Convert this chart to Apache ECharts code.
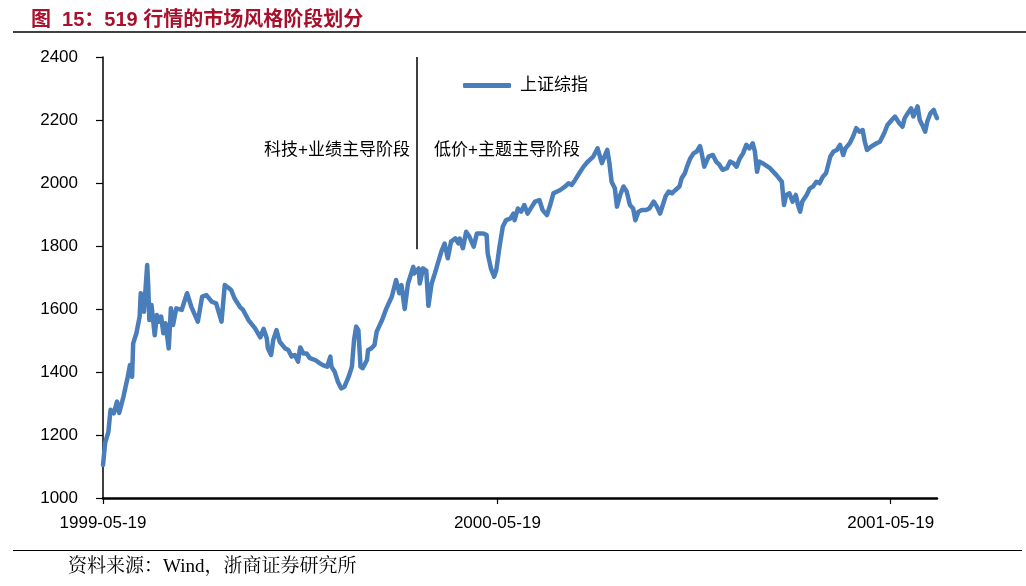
<!DOCTYPE html>
<html>
<head>
<meta charset="utf-8">
<script src="https://cdn.jsdelivr.net/npm/echarts@6/dist/echarts.min.js"></script>
<style>html,body{margin:0;padding:0;background:#fff;}#c{width:1026px;height:586px;}</style>
</head>
<body>
<div id="c"></div>
<script>
const titleText = '图  15：519 行情的市场风格阶段划分';
const sourceText = '资料来源：Wind，浙商证券研究所';
const seriesName = '上证综指';
const phaseLeft = '科技+业绩主导阶段';
const phaseRight = '低价+主题主导阶段';
const phaseSplitDate = '2000-03-05';
const phaseLineFrom = 1790;
const xTickDates = ['1999-05-19', '2000-05-19', '2001-05-19'];
const xMin = '1999-05-19';
const xMax = '2001-07-01';
const yTicks = [1000, 1200, 1400, 1600, 1800, 2000, 2200, 2400];

const dates = [
'1999-05-19','1999-05-21','1999-05-24','1999-05-26','1999-05-29','1999-06-01','1999-06-03','1999-06-07','1999-06-11','1999-06-13',
'1999-06-15','1999-06-16','1999-06-19','1999-06-22','1999-06-23','1999-06-25','1999-06-26','1999-06-29','1999-06-30','1999-07-01',
'1999-07-03','1999-07-06','1999-07-08','1999-07-10','1999-07-12','1999-07-14','1999-07-16','1999-07-19','1999-07-21','1999-07-23',
'1999-07-26','1999-07-31','1999-08-05','1999-08-09','1999-08-15','1999-08-19','1999-08-23','1999-08-28','1999-09-01','1999-09-06',
'1999-09-09','1999-09-13','1999-09-15','1999-09-18','1999-09-23','1999-09-26','1999-10-01','1999-10-07','1999-10-12','1999-10-15',
'1999-10-18','1999-10-19','1999-10-22','1999-10-24','1999-10-27','1999-10-30','1999-11-04','1999-11-07','1999-11-10','1999-11-13',
'1999-11-16','1999-11-18','1999-11-21','1999-11-24','1999-11-27','1999-12-02','1999-12-06','1999-12-09','1999-12-13','1999-12-16',
'1999-12-17','1999-12-20','1999-12-23','1999-12-26','1999-12-29','2000-01-02','2000-01-05','2000-01-07','2000-01-09','2000-01-11',
'2000-01-13','2000-01-15','2000-01-19','2000-01-20','2000-01-23','2000-01-26','2000-01-28','2000-02-02','2000-02-06','2000-02-11',
'2000-02-15','2000-02-18','2000-02-20','2000-02-23','2000-02-26','2000-03-02','2000-03-03','2000-03-07','2000-03-08','2000-03-11',
'2000-03-14','2000-03-16','2000-03-19','2000-03-22','2000-03-25','2000-03-28','2000-03-31','2000-04-03','2000-04-06','2000-04-10',
'2000-04-13','2000-04-14','2000-04-17','2000-04-20','2000-04-23','2000-04-27','2000-04-30','2000-05-06','2000-05-09','2000-05-10',
'2000-05-13','2000-05-16','2000-05-18','2000-05-21','2000-05-24','2000-05-27','2000-05-31','2000-06-03','2000-06-04','2000-06-07',
'2000-06-10','2000-06-13','2000-06-16','2000-06-20','2000-06-23','2000-06-27','2000-06-30','2000-07-04','2000-07-07','2000-07-10',
'2000-07-13','2000-07-16','2000-07-21','2000-07-24','2000-07-27','2000-07-30','2000-08-03','2000-08-07','2000-08-11','2000-08-16',
'2000-08-20','2000-08-24','2000-08-27','2000-08-29','2000-08-31','2000-09-02','2000-09-03','2000-09-05','2000-09-07','2000-09-10',
'2000-09-13','2000-09-16','2000-09-19','2000-09-22','2000-09-24','2000-09-27','2000-09-30','2000-10-04','2000-10-07','2000-10-11',
'2000-10-14','2000-10-17','2000-10-20','2000-10-22','2000-10-25','2000-10-28','2000-10-31','2000-11-04','2000-11-06','2000-11-09',
'2000-11-11','2000-11-14','2000-11-17','2000-11-20','2000-11-23','2000-11-24','2000-11-27','2000-11-29','2000-12-01','2000-12-05',
'2000-12-08','2000-12-11','2000-12-14','2000-12-18','2000-12-21','2000-12-24','2000-12-27','2000-12-30','2001-01-02','2001-01-05',
'2001-01-08','2001-01-11','2001-01-13','2001-01-15','2001-01-17','2001-01-20','2001-01-27','2001-02-02','2001-02-07','2001-02-09',
'2001-02-11','2001-02-14','2001-02-17','2001-02-20','2001-02-22','2001-02-24','2001-02-26','2001-03-02','2001-03-05','2001-03-08',
'2001-03-11','2001-03-14','2001-03-17','2001-03-20','2001-03-22','2001-03-24','2001-03-27','2001-03-30','2001-04-02','2001-04-05',
'2001-04-07','2001-04-11','2001-04-14','2001-04-17','2001-04-20','2001-04-23','2001-04-25','2001-04-27','2001-05-01','2001-05-06',
'2001-05-09','2001-05-13','2001-05-16','2001-05-20','2001-05-23','2001-05-27','2001-05-30','2001-06-01','2001-06-04','2001-06-07',
'2001-06-09','2001-06-13','2001-06-15','2001-06-18','2001-06-20','2001-06-22','2001-06-25','2001-06-28','2001-06-29','2001-07-01'
];

const values = [
1105,1175,1210,1280,1269,1306,1270,1322,1385,1422,
1385,1491,1523,1576,1650,1634,1591,1740,1671,1565,
1613,1517,1581,1560,1576,1523,1555,1475,1602,1549,
1602,1597,1650,1607,1560,1639,1644,1623,1618,1560,
1676,1666,1660,1634,1607,1597,1565,1539,1510,1537,
1507,1475,1454,1502,1533,1496,1475,1470,1449,1454,
1433,1478,1459,1459,1444,1438,1428,1422,1417,1449,
1417,1401,1369,1348,1353,1385,1417,1502,1544,1533,
1417,1412,1438,1470,1475,1486,1528,1565,1602,1639,
1692,1650,1676,1600,1680,1734,1713,1729,1681,1729,
1722,1610,1681,1713,1748,1782,1808,1761,1814,1824,
1808,1824,1793,1845,1830,1798,1840,1840,1835,1777,
1729,1703,1724,1798,1861,1882,1887,1903,1882,1919,
1909,1930,1903,1925,1941,1946,1914,1898,1930,1967,
1972,1977,1989,1999,1994,2009,2031,2052,2068,2084,
2110,2063,2089,2105,2063,2004,2009,1983,1925,1962,
1989,1973,1930,1919,1882,1909,1914,1914,1919,1941,
1925,1903,1935,1957,1973,1967,1977,1989,2015,2031,
2052,2078,2094,2100,2117,2105,2052,2068,2084,2089,
2068,2058,2042,2047,2068,2063,2052,2078,2094,2121,
2110,2126,2100,2036,2068,2063,2047,2025,2004,1930,
1962,1967,1941,1962,1930,1909,1941,1962,1983,1989,
2004,1999,2020,2031,2057,2084,2100,2105,2121,2089,
2110,2126,2147,2174,2163,2168,2131,2105,2116,2126,
2131,2158,2184,2200,2211,2190,2179,2206,2222,2237,
2211,2243,2200,2179,2163,2195,2222,2232,2222,2206
];

const chart = echarts.init(document.getElementById('c'), null, {renderer: 'canvas'});
const P = (s) => +echarts.time.parse(s);
const sans = "'Liberation Sans', Arial, 'Noto Sans CJK SC', sans-serif";
const cjk = "'Liberation Sans', 'Noto Sans CJK SC', sans-serif";
const serif = "'Liberation Serif', 'Noto Serif CJK SC', 'Noto Sans CJK SC', serif";
const lineColor = '#4A7EBB';
const tickVals = xTickDates.map(P);

chart.setOption({
  animation: false,
  backgroundColor: '#ffffff',
  title: {
    text: titleText,
    left: 26, top: 5,
    textStyle: {fontSize: 20, fontWeight: 'bold', color: '#A8102C', fontFamily: cjk}
  },
  legend: {
    data: [seriesName],
    left: 463, top: 77,
    padding: 0,
    icon: 'roundRect',
    itemWidth: 48, itemHeight: 5,
    textStyle: {fontSize: 17, color: '#000', fontFamily: cjk, padding: [0, 0, 0, 4]}
  },
  grid: {left: 103, right: 89, top: 57, bottom: 88, containLabel: false},
  xAxis: {
    type: 'value',
    min: P(xMin), max: P(xMax),
    splitLine: {show: false},
    axisLine: {show: true, lineStyle: {color: '#000', width: 2.5}},
    axisTick: {show: true, length: 6, lineStyle: {color: '#000', width: 1.2}, customValues: tickVals},
    axisLabel: {
      customValues: tickVals,
      margin: 17,
      fontSize: 17, color: '#000', fontFamily: sans,
      formatter: (v) => echarts.time.format(v, '{yyyy}-{MM}-{dd}', false)
    }
  },
  yAxis: {
    type: 'value',
    min: yTicks[0], max: yTicks[yTicks.length - 1], interval: 200,
    splitLine: {show: false},
    axisLine: {show: true, lineStyle: {color: '#000', width: 1.5}},
    axisTick: {show: true, inside: false, length: 7, lineStyle: {color: '#000', width: 1.2}},
    axisLabel: {margin: 25, fontSize: 17, color: '#000', fontFamily: sans, formatter: (v) => String(v)}
  },
  series: [{
    name: seriesName,
    type: 'line',
    data: dates.map((d, i) => [P(d), values[i]]),
    showSymbol: false,
    symbol: 'none',
    lineStyle: {color: lineColor, width: 4.5, join: 'round', cap: 'round'},
    itemStyle: {color: lineColor},
    markLine: {
      silent: true,
      symbol: ['none', 'none'],
      label: {show: false},
      lineStyle: {color: '#000', width: 1.5, type: 'solid'},
      data: [[{coord: [P(phaseSplitDate), phaseLineFrom]}, {coord: [P(phaseSplitDate), yTicks[yTicks.length - 1]]}]]
    }
  }],
  graphic: [
    {type: 'line', shape: {x1: 13, y1: 32, x2: 1026, y2: 32}, style: {stroke: '#000', lineWidth: 1.5}},
    {type: 'line', shape: {x1: 13, y1: 550.5, x2: 1022, y2: 550.5}, style: {stroke: '#000', lineWidth: 1.2}},
    {type: 'text', left: 68, top: 558, style: {text: sourceText, fontSize: 19, fill: '#000', fontFamily: serif}},
    {type: 'text', x: 410, y: 150, style: {text: phaseLeft, fontSize: 17, fill: '#000', fontFamily: cjk, align: 'right', verticalAlign: 'middle'}},
    {type: 'text', x: 434, y: 150, style: {text: phaseRight, fontSize: 17, fill: '#000', fontFamily: cjk, align: 'left', verticalAlign: 'middle'}}
  ]
});
</script>
</body>
</html>
